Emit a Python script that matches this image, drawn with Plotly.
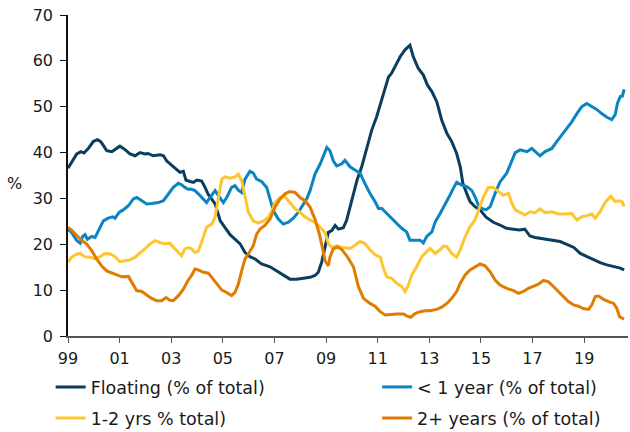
import plotly.graph_objects as go

# ---------------- data (decimal years, % of total) ----------------
floating_x = [1999.0, 1999.14, 1999.34, 1999.5, 1999.62, 1999.8, 1999.98, 2000.14, 2000.27, 2000.4, 2000.5, 2000.7,
              2000.86, 2001.01, 2001.2, 2001.4, 2001.6, 2001.79, 2001.98, 2002.1, 2002.3, 2002.57, 2002.7, 2002.82,
              2003.0, 2003.2, 2003.34, 2003.47, 2003.57, 2003.73, 2003.86, 2003.99, 2004.18, 2004.31, 2004.44,
              2004.55, 2004.7, 2004.9, 2005.08, 2005.28, 2005.47, 2005.67, 2005.86, 2006.05, 2006.25, 2006.5,
              2006.83, 2007.08, 2007.34, 2007.6, 2007.86, 2008.1, 2008.38, 2008.57, 2008.7, 2008.83, 2008.96,
              2009.09, 2009.22, 2009.35, 2009.48, 2009.67, 2009.8, 2010.0, 2010.2, 2010.38, 2010.57, 2010.77,
              2010.96, 2011.16, 2011.29, 2011.42, 2011.54, 2011.67, 2011.87, 2012.06, 2012.25, 2012.38, 2012.57,
              2012.77, 2012.93, 2013.1, 2013.29, 2013.48, 2013.68, 2013.87, 2014.06, 2014.2, 2014.3, 2014.45,
              2014.58, 2014.77, 2014.97, 2015.2, 2015.48, 2015.74, 2015.99, 2016.25, 2016.5, 2016.7, 2016.9,
              2017.1, 2017.36, 2017.55, 2017.8, 2018.07, 2018.33, 2018.6, 2018.85, 2019.1, 2019.36, 2019.62,
              2019.88, 2020.14, 2020.4, 2020.55]
floating_y = [36.6, 37.8, 39.7, 40.2, 39.9, 41.0, 42.4, 42.8, 42.4, 41.3, 40.4, 40.2,
              40.8, 41.4, 40.7, 39.7, 39.3, 40.0, 39.7, 39.8, 39.3, 39.5, 39.3, 38.2,
              37.3, 36.4, 35.7, 35.9, 34.0, 33.7, 33.5, 34.0, 33.8, 32.4, 30.8,
              30.0, 28.8, 25.1, 23.7, 22.1, 21.1, 20.1, 18.2, 17.3, 16.8, 15.7,
              15.1, 14.2, 13.2, 12.4, 12.4, 12.6, 12.8, 13.2, 13.9, 16.1, 19.7,
              22.6, 23.0, 24.1, 23.3, 23.6, 25.3, 29.7, 34.0, 36.9, 40.6, 44.9,
              47.8, 51.5, 54.4, 56.5, 57.3, 58.7, 60.9, 62.4, 63.4, 60.9, 58.4,
              56.9, 54.7, 53.3, 51.1, 47.1, 44.2, 42.4, 39.8, 36.9, 33.3, 31.1,
              29.3, 28.2, 27.5, 25.9, 24.8, 24.2, 23.5, 23.3, 23.1, 23.3, 21.8,
              21.5, 21.3, 21.1, 20.9, 20.6, 20.0, 19.3, 18.0, 17.3, 16.6, 16.0,
              15.5, 15.1, 14.8, 14.4]

short_x = [1999.0, 1999.14, 1999.34, 1999.47, 1999.57, 1999.66, 1999.75, 1999.92, 2000.05, 2000.21, 2000.37, 2000.56,
           2000.73, 2000.82, 2000.99, 2001.14, 2001.34, 2001.53, 2001.66, 2001.86, 2002.05, 2002.24, 2002.5, 2002.7,
           2002.89, 2003.08, 2003.28, 2003.4, 2003.53, 2003.66, 2003.79, 2003.92, 2004.05, 2004.18, 2004.37,
           2004.5, 2004.7, 2004.83, 2005.02, 2005.15, 2005.34, 2005.47, 2005.6, 2005.73, 2005.86, 2006.05,
           2006.18, 2006.31, 2006.5, 2006.7, 2006.83, 2006.96, 2007.15, 2007.34, 2007.54, 2007.73, 2007.93,
           2008.12, 2008.25, 2008.38, 2008.57, 2008.77, 2008.9, 2009.03, 2009.15, 2009.28, 2009.41, 2009.6,
           2009.73, 2009.93, 2010.12, 2010.32, 2010.5, 2010.7, 2010.9, 2011.03, 2011.16, 2011.35, 2011.54,
           2011.74, 2011.93, 2012.12, 2012.25, 2012.45, 2012.64, 2012.77, 2012.9, 2013.1, 2013.23, 2013.42,
           2013.61, 2013.8, 2013.93, 2014.06, 2014.26, 2014.45, 2014.64, 2014.77, 2014.9, 2015.03, 2015.2,
           2015.36, 2015.55, 2015.74, 2016.0, 2016.2, 2016.33, 2016.52, 2016.78, 2016.97, 2017.1, 2017.29,
           2017.49, 2017.75, 2017.94, 2018.13, 2018.33, 2018.52, 2018.72, 2018.91, 2019.1, 2019.3, 2019.49,
           2019.68, 2019.88, 2020.07, 2020.2, 2020.29, 2020.4, 2020.48, 2020.55]
short_y = [23.3, 22.6, 20.8, 20.2, 21.7, 22.1, 21.1, 21.7, 21.5, 23.3, 25.1, 25.7,
           26.0, 25.7, 27.0, 27.5, 28.4, 29.9, 30.2, 29.5, 28.8, 28.9, 29.1, 29.5,
           31.0, 32.4, 33.3, 33.0, 32.4, 32.0, 32.0, 31.7, 31.0, 30.2, 29.1,
           30.2, 31.7, 30.6, 29.1, 30.2, 32.4, 32.8, 31.8, 31.3, 34.2, 35.9,
           35.5, 34.2, 33.7, 32.4, 29.9, 27.3, 25.5, 24.4, 24.8, 25.7, 27.0,
           28.8, 29.9, 31.7, 35.3, 37.5, 39.3, 41.1, 40.4, 38.2, 37.1, 37.5,
           38.3, 36.9, 36.2, 35.5, 33.3, 31.1, 29.3, 27.8, 27.8, 26.7, 25.7,
           24.6, 23.5, 22.7, 20.9, 20.9, 20.9, 20.3, 21.7, 22.7, 24.9, 26.7,
           28.6, 30.7, 32.2, 33.5, 32.9, 32.6, 31.8, 30.4, 28.6, 27.8, 27.5,
           28.2, 31.1, 33.6, 35.5, 38.4, 40.0, 40.6, 40.2, 40.9, 40.2, 39.3,
           40.2, 40.9, 42.4, 43.8, 45.3, 46.7, 48.5, 50.0, 50.7, 50.0, 49.4,
           48.5, 47.7, 47.2, 48.2, 50.7, 52.2, 52.3, 53.8]

mid_x = [1999.0, 1999.14, 1999.34, 1999.47, 1999.66, 1999.85, 2000.05, 2000.24, 2000.43, 2000.63, 2000.82, 2001.01,
         2001.2, 2001.4, 2001.6, 2001.79, 2001.98, 2002.18, 2002.37, 2002.57, 2002.76, 2002.95, 2003.08, 2003.28,
         2003.4, 2003.53, 2003.66, 2003.79, 2003.92, 2004.05, 2004.2, 2004.37, 2004.57, 2004.7, 2004.83,
         2004.96, 2005.08, 2005.28, 2005.47, 2005.6, 2005.73, 2005.86, 2005.99, 2006.18, 2006.38, 2006.57,
         2006.77, 2006.9, 2007.02, 2007.22, 2007.41, 2007.6, 2007.8, 2007.99, 2008.18, 2008.38, 2008.57,
         2008.77, 2008.96, 2009.09, 2009.22, 2009.41, 2009.6, 2009.8, 2009.93, 2010.12, 2010.32, 2010.5,
         2010.7, 2010.9, 2011.1, 2011.22, 2011.35, 2011.54, 2011.74, 2011.93, 2012.06, 2012.19, 2012.32,
         2012.51, 2012.71, 2012.9, 2013.03, 2013.23, 2013.42, 2013.55, 2013.68, 2013.87, 2014.06, 2014.2,
         2014.39, 2014.58, 2014.77, 2014.97, 2015.1, 2015.29, 2015.48, 2015.68, 2015.87, 2016.07, 2016.2,
         2016.33, 2016.52, 2016.71, 2016.9, 2017.1, 2017.29, 2017.49, 2017.75, 2018.0, 2018.26, 2018.52,
         2018.72, 2018.91, 2019.1, 2019.3, 2019.43, 2019.62, 2019.81, 2020.03, 2020.2, 2020.35, 2020.47, 2020.55]
mid_y = [16.1, 17.2, 17.9, 18.0, 17.3, 17.2, 16.8, 17.3, 18.0, 17.9, 17.3, 16.2,
         16.4, 16.6, 17.2, 18.0, 19.0, 20.1, 20.8, 20.4, 20.1, 20.2, 19.5, 18.2,
         17.5, 19.0, 19.3, 19.0, 18.2, 18.5, 20.8, 23.7, 24.4, 25.9, 30.2,
         34.2, 34.7, 34.4, 34.7, 35.3, 33.9, 30.2, 27.0, 25.1, 24.6, 25.1,
         25.9, 27.3, 29.1, 30.2, 30.4, 29.1, 27.7, 27.0, 26.0, 25.3, 24.8,
         23.7, 22.6, 20.1, 19.3, 19.7, 19.3, 19.2, 19.1, 19.8, 20.6, 20.2,
         18.8, 17.7, 17.2, 14.8, 12.9, 12.6, 11.5, 10.8, 9.7, 11.1, 13.3,
         15.1, 17.3, 18.4, 19.1, 18.0, 18.8, 19.6, 19.5, 18.0, 17.2, 18.8,
         21.7, 23.8, 25.3, 28.4, 30.4, 32.4, 32.4, 31.5, 30.7, 31.1, 28.9,
         27.5, 26.9, 26.4, 27.1, 26.9, 27.7, 26.9, 27.1, 26.6, 26.6, 26.7,
         25.3, 26.0, 26.2, 26.6, 25.7, 27.1, 29.1, 30.5, 29.3, 29.5, 29.3, 28.2]

long_x = [1999.0, 1999.14, 1999.34, 1999.53, 1999.72, 1999.92, 2000.11, 2000.3, 2000.5, 2000.7, 2000.89, 2001.08,
          2001.34, 2001.47, 2001.66, 2001.86, 2002.05, 2002.24, 2002.44, 2002.63, 2002.8, 2002.95, 2003.08, 2003.28,
          2003.47, 2003.66, 2003.79, 2003.92, 2004.05, 2004.25, 2004.44, 2004.57, 2004.77, 2004.96, 2005.15,
          2005.34, 2005.47, 2005.6, 2005.73, 2005.86, 2005.99, 2006.18, 2006.31, 2006.44, 2006.63, 2006.83,
          2007.02, 2007.22, 2007.41, 2007.6, 2007.8, 2007.99, 2008.18, 2008.38, 2008.57, 2008.74, 2008.87,
          2008.96, 2009.09, 2009.15, 2009.28, 2009.45, 2009.62, 2009.8, 2010.06, 2010.25, 2010.45, 2010.7,
          2010.9, 2011.1, 2011.29, 2011.48, 2011.74, 2012.0, 2012.12, 2012.28, 2012.45, 2012.64, 2012.84,
          2013.03, 2013.29, 2013.48, 2013.68, 2013.87, 2014.06, 2014.2, 2014.39, 2014.58, 2014.77, 2014.97,
          2015.16, 2015.36, 2015.55, 2015.74, 2016.0, 2016.26, 2016.46, 2016.65, 2016.84, 2017.04, 2017.23,
          2017.42, 2017.62, 2017.81, 2018.0, 2018.2, 2018.39, 2018.59, 2018.78, 2018.97, 2019.17, 2019.3,
          2019.43, 2019.56, 2019.75, 2019.95, 2020.14, 2020.27, 2020.37, 2020.47, 2020.55]
long_y = [23.7, 23.1, 21.9, 20.8, 20.1, 18.6, 16.8, 15.3, 14.2, 13.7, 13.4, 12.9,
          13.0, 11.7, 9.9, 9.7, 8.9, 8.2, 7.7, 7.7, 8.4, 7.8, 7.7, 8.8,
          10.2, 12.2, 13.2, 14.6, 14.4, 13.9, 13.7, 12.8, 11.3, 10.0, 9.5,
          8.8, 9.5, 11.3, 14.2, 16.8, 17.9, 19.7, 22.2, 23.3, 24.1, 25.5,
          28.1, 29.9, 31.0, 31.5, 31.3, 30.2, 29.5, 28.1, 25.5, 22.2, 19.0,
          16.4, 15.3, 17.2, 19.0, 19.4, 18.8, 17.5, 15.1, 10.8, 8.2, 7.1,
          6.5, 5.3, 4.6, 4.7, 4.8, 4.8, 4.4, 4.1, 4.9, 5.3, 5.5,
          5.5, 5.8, 6.3, 7.1, 8.2, 9.7, 11.5, 13.3, 14.4, 15.1, 15.7,
          15.3, 14.0, 12.2, 11.1, 10.4, 9.9, 9.3, 9.7, 10.4, 10.8, 11.3,
          12.1, 11.8, 10.8, 9.7, 8.6, 7.5, 6.8, 6.5, 6.0, 5.8, 6.8,
          8.6, 8.7, 8.0, 7.5, 7.1, 6.0, 4.2, 3.9, 3.7]

series_names = ["Floating (% of total)", "< 1 year (% of total)", "1-2 yrs % total)", "2+ years (% of total)"]
series_colors = ["#0B3D5E", "#0A85C2", "#FDC630", "#E07C00"]

x_tickvals = [1999, 2001, 2003, 2005, 2007, 2009, 2011, 2013, 2015, 2017, 2019]
x_ticktext = ["99", "01", "03", "05", "07", "09", "11", "13", "15", "17", "19"]
y_tickvals = [0, 10, 20, 30, 40, 50, 60, 70]

FONT = "DejaVu Sans, Verdana, sans-serif"
TXT = "#1a1a1a"

fig = go.Figure()
xs = [floating_x, short_x, mid_x, long_x]
ys = [floating_y, short_y, mid_y, long_y]
legend_ids = ["legend", "legend2", "legend3", "legend4"]
for name, color, x, y, lg in zip(series_names, series_colors, xs, ys, legend_ids):
    fig.add_trace(go.Scatter(x=x, y=y, mode="lines", name=name,
                             line=dict(color=color, width=3), legend=lg))


def leg(x, y):
    return dict(x=x, y=y, xanchor="left", yanchor="middle", orientation="h",
                font=dict(family=FONT, size=17.5, color=TXT),
                bgcolor="rgba(0,0,0,0)", borderwidth=0, itemwidth=30)


fig.update_layout(
    width=630, height=432,
    margin=dict(l=68, r=2, t=15, b=96, autoexpand=False),
    paper_bgcolor="white", plot_bgcolor="white",
    font=dict(family=FONT, size=16, color=TXT),
    showlegend=True,
    legend=leg(-0.031, -0.159),
    legend2=leg(0.552, -0.159),
    legend3=leg(-0.031, -0.256),
    legend4=leg(0.552, -0.256),
    xaxis=dict(range=[1999, 2020.7], tickvals=x_tickvals, ticktext=x_ticktext,
               showgrid=False, zeroline=False, showline=True, linecolor="#555555", linewidth=1.5,
               ticks="outside", ticklen=5, tickcolor="#555555", tickwidth=1.2,
               ticklabelstandoff=2,
               tickfont=dict(family=FONT, size=16, color=TXT)),
    yaxis=dict(range=[0, 70], tickvals=y_tickvals,
               showgrid=False, zeroline=False, showline=True, linecolor="#111111", linewidth=1.5,
               ticks="outside", ticklen=6, tickcolor="#111111", tickwidth=1.2,
               ticklabelstandoff=4,
               tickfont=dict(family=FONT, size=16, color=TXT)),
    annotations=[dict(text="%", xref="paper", yref="y", x=-0.095, y=33.3, showarrow=False,
                      xanchor="center", yanchor="middle", font=dict(family=FONT, size=16, color=TXT))],
)

fig.write_html("out.html", config={"displayModeBar": False},
               post_script="document.body.style.margin='0';document.body.style.overflow='hidden';")
